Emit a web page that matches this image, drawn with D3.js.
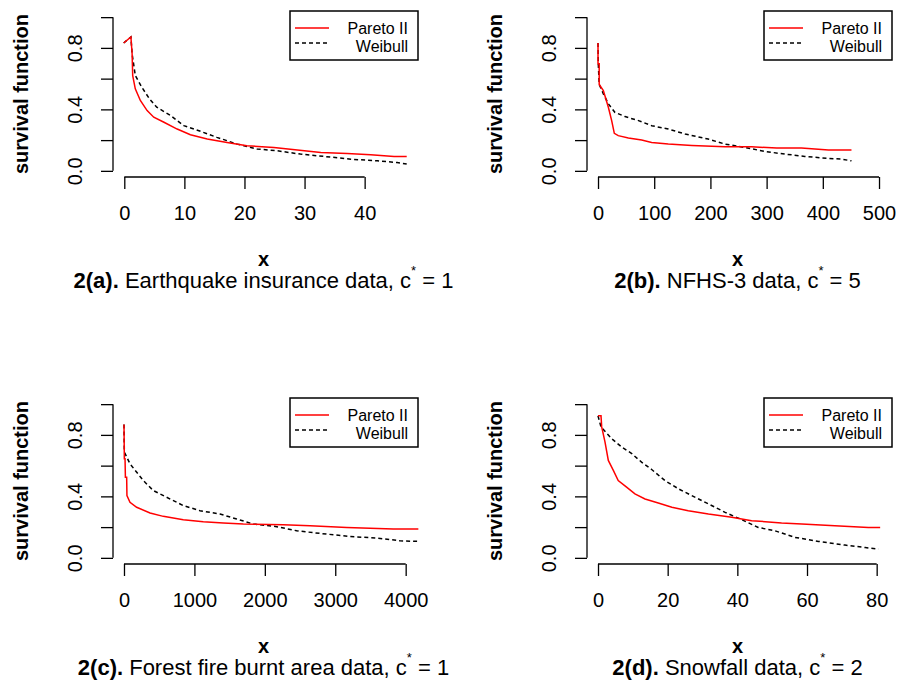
<!DOCTYPE html>
<html lang="en">
<head>
  <meta charset="UTF-8">
  <title>Survival functions</title>
  <style type="text/css" media="all">
    body { margin: 0; background: #fff; }
    svg { display: block; font-family: "Liberation Sans", Arial, sans-serif; }
    .axis text { font-size: 20px; fill: #000; }
  </style>
</head>
<body>
  <div id="graph"></div>
  <script src="https://cdn.jsdelivr.net/npm/d3@7" charset="utf-8"></script>
  <script>
    // values: [x, survival]
    var quakePareto = [[-0.1, 0.832], [1.1, 0.871], [1.3, 0.762], [1.4, 0.62], [1.83, 0.534], [2.67, 0.458],
      [3.8, 0.392], [4.9, 0.349], [6.6, 0.316], [8.8, 0.272], [11, 0.235], [13.8, 0.207], [17.1, 0.185],
      [20.4, 0.163], [24.9, 0.152], [28.8, 0.135], [32.7, 0.12], [37.1, 0.113], [41, 0.105], [44.9, 0.094], [47, 0.094]];
    var quakeWeibull = [[-0.1, 0.832], [1.1, 0.871], [1.3, 0.762], [1.83, 0.62], [2.9, 0.545], [4.2, 0.468],
      [5.4, 0.414], [7.7, 0.36], [9.9, 0.294], [12.7, 0.257], [15.4, 0.218], [18.8, 0.174], [22.1, 0.142],
      [25.4, 0.131], [29.3, 0.109], [33.2, 0.094], [37.7, 0.076], [42.1, 0.065], [45.4, 0.054], [47, 0.044]];

    var nfhsPareto = [[0, 0.832], [0, 0.697], [2.1, 0.697], [2.1, 0.562], [9.5, 0.523], [18.4, 0.414], [24.3, 0.327],
      [29, 0.244], [36, 0.229], [54, 0.214], [77.7, 0.2], [95.5, 0.185], [125, 0.174], [167, 0.165], [226, 0.157],
      [273, 0.157], [318, 0.148], [362, 0.148], [410, 0.135], [451, 0.135]];
    var nfhsWeibull = [[0, 0.832], [0.5, 0.697], [2.1, 0.562], [9.5, 0.501], [18.4, 0.436], [30, 0.381], [48, 0.353],
      [72, 0.327], [95.5, 0.294], [125, 0.272], [155, 0.24], [196, 0.207], [226, 0.174], [262, 0.152], [297, 0.126],
      [333, 0.109], [368, 0.094], [410, 0.081], [434, 0.076], [451, 0.065]];

    var firePareto = [[0, 0.867], [5, 0.645], [15, 0.645], [20, 0.525], [38, 0.525], [42, 0.405], [85, 0.361],
      [180, 0.329], [370, 0.292], [558, 0.27], [842, 0.248], [1126, 0.235], [1410, 0.227], [1695, 0.22],
      [2263, 0.216], [2642, 0.209], [3163, 0.198], [3825, 0.188], [4180, 0.188]];
    var fireWeibull = [[0, 0.867], [5, 0.688], [85, 0.612], [274, 0.503], [416, 0.438], [606, 0.394], [842, 0.34],
      [1079, 0.307], [1363, 0.285], [1600, 0.253], [1837, 0.22], [2168, 0.203], [2452, 0.176], [2784, 0.159],
      [3210, 0.139], [3589, 0.129], [3920, 0.111], [4180, 0.107]];

    var snowPareto = [[0, 0.924], [0.86, 0.924], [1.06, 0.852], [2, 0.754], [2.96, 0.634], [4.4, 0.569], [5.8, 0.503],
      [8.2, 0.46], [10.6, 0.416], [13.5, 0.383], [17.3, 0.357], [21.2, 0.329], [25.9, 0.307], [31.7, 0.285],
      [38.4, 0.264], [44.1, 0.242], [52.7, 0.227], [58.5, 0.22], [68, 0.209], [77.6, 0.198], [81, 0.198]];
    var snowWeibull = [[0, 0.924], [0.86, 0.852], [3.9, 0.776], [6.8, 0.721], [9.7, 0.678], [12.5, 0.623],
      [15.4, 0.575], [19.2, 0.503], [23.1, 0.449], [26.9, 0.405], [31.7, 0.351], [36.5, 0.296], [41.3, 0.248],
      [46, 0.198], [50.8, 0.176], [56.6, 0.133], [63.3, 0.107], [70.9, 0.083], [76.7, 0.067], [80.5, 0.057]];

    var quakeTicks = [0, 10, 20, 30, 40];
    var nfhsTicks = [0, 100, 200, 300, 400, 500];
    var fireTicks = [0, 1000, 2000, 3000, 4000];
    var snowTicks = [0, 20, 40, 60, 80];
    var yTicks = [0, 0.2, 0.4, 0.6, 0.8, 1.0];
    var yLabelled = [0, 0.4, 0.8];

    var seriesNames = ['Pareto II', 'Weibull'];
    var captions = [
      ['2(a).', ' Earthquake insurance data, c', ' = 1'],
      ['2(b).', ' NFHS-3 data, c', ' = 5'],
      ['2(c).', ' Forest fire burnt area data, c', ' = 1'],
      ['2(d).', ' Snowfall data, c', ' = 2']
    ];

    var panels = [
      { pareto: quakePareto, weibull: quakeWeibull, ticks: quakeTicks, xlim: [-1.88, 48.88], ox: 0, oy: 0, caption: captions[0] },
      { pareto: nfhsPareto, weibull: nfhsWeibull, ticks: nfhsTicks, xlim: [-19.6, 523.1], ox: 474, oy: 0, caption: captions[1] },
      { pareto: firePareto, weibull: fireWeibull, ticks: fireTicks, xlim: [-156, 4175], ox: 0, oy: 387, caption: captions[2] },
      { pareto: snowPareto, weibull: snowWeibull, ticks: snowTicks, xlim: [-3.16, 84.4], ox: 474, oy: 387, caption: captions[3] }
    ];

    var box = { left: 113, right: 418, top: 11, bottom: 177 };

    var svg = d3.select('#graph').append('svg')
        .attr('width', 899)
        .attr('height', 684);

    panels.forEach(function(p) {
      var g = svg.append('g').attr('transform', 'translate(' + p.ox + ',' + p.oy + ')');

      var x = d3.scaleLinear().domain(p.xlim).range([box.left, box.right]);
      var y = d3.scaleLinear().domain([-0.04, 1.04]).range([box.bottom, box.top]);

      // x axis
      var xa = g.append('g')
          .attr('class', 'axis')
          .attr('transform', 'translate(0,' + box.bottom + ')')
          .call(d3.axisBottom(x).tickValues(p.ticks).tickSize(12).tickSizeOuter(0).tickFormat(d3.format('d')));
      xa.select('.domain').attr('d', 'M' + x(p.ticks[0]) + ',0H' + x(p.ticks[p.ticks.length - 1]));
      xa.selectAll('text').attr('y', 43).attr('dy', null);

      // y axis
      var ya = g.append('g')
          .attr('class', 'axis')
          .attr('transform', 'translate(' + box.left + ',0)')
          .call(d3.axisLeft(y).tickValues(yTicks).tickSize(12).tickSizeOuter(0)
            .tickFormat(function(d) { return yLabelled.indexOf(d) >= 0 ? d3.format('.1f')(d) : ''; }));
      ya.select('.domain').attr('d', 'M0,' + y(0) + 'V' + y(1));
      ya.selectAll('text')
          .attr('x', null).attr('dy', null)
          .attr('text-anchor', 'middle')
          .attr('transform', 'translate(-31,0) rotate(-90)');
      g.selectAll('.axis line, .axis path').attr('stroke', '#000').attr('stroke-width', 1.3);

      var line = d3.line()
          .x(function(d) { return x(d[0]); })
          .y(function(d) { return y(d[1]); });

      g.append('path')
          .datum(p.weibull)
          .attr('fill', 'none')
          .attr('stroke', '#000')
          .attr('stroke-width', 1.5)
          .attr('stroke-dasharray', '4,3')
          .attr('d', line);

      g.append('path')
          .datum(p.pareto)
          .attr('fill', 'none')
          .attr('stroke', '#ff0000')
          .attr('stroke-width', 1.5)
          .attr('d', line);

      // legend
      var lg = g.append('g');
      lg.append('rect')
          .attr('x', 290).attr('y', box.top)
          .attr('width', box.right - 290).attr('height', 49)
          .attr('fill', '#fff').attr('stroke', '#000').attr('stroke-width', 1.5);
      lg.append('line').attr('x1', 295).attr('x2', 329).attr('y1', 28).attr('y2', 28)
          .attr('stroke', '#ff0000').attr('stroke-width', 1.5);
      lg.append('line').attr('x1', 295).attr('x2', 329).attr('y1', 43).attr('y2', 43)
          .attr('stroke', '#000').attr('stroke-width', 1.5).attr('stroke-dasharray', '4,3');
      lg.selectAll('text.leg')
          .data(seriesNames)
          .enter().append('text')
          .attr('class', 'leg')
          .attr('x', 408)
          .attr('y', function(d, i) { return 34 + i * 18; })
          .attr('text-anchor', 'end')
          .attr('font-size', 16)
          .text(function(d) { return d; });

      // axis titles
      g.append('text')
          .attr('transform', 'translate(28,' + ((box.top + box.bottom) / 2) + ') rotate(-90)')
          .attr('text-anchor', 'middle')
          .attr('font-size', 20)
          .attr('font-weight', 'bold')
          .text('survival function');

      var cx = (box.left + box.right) / 2;
      g.append('text')
          .attr('x', cx - 2).attr('y', 266)
          .attr('text-anchor', 'middle')
          .attr('font-size', 20)
          .attr('font-weight', 'bold')
          .text('x');

      var cap = g.append('text')
          .attr('x', cx - 2).attr('y', 288)
          .attr('text-anchor', 'middle')
          .attr('font-size', 22);
      cap.append('tspan').attr('font-weight', 'bold').text(p.caption[0]);
      cap.append('tspan').text(p.caption[1]);
      cap.append('tspan').attr('font-size', 13).attr('dy', -13).text('*');
      cap.append('tspan').attr('dy', 13).text(p.caption[2]);
    });
  </script>
</body>
</html>
